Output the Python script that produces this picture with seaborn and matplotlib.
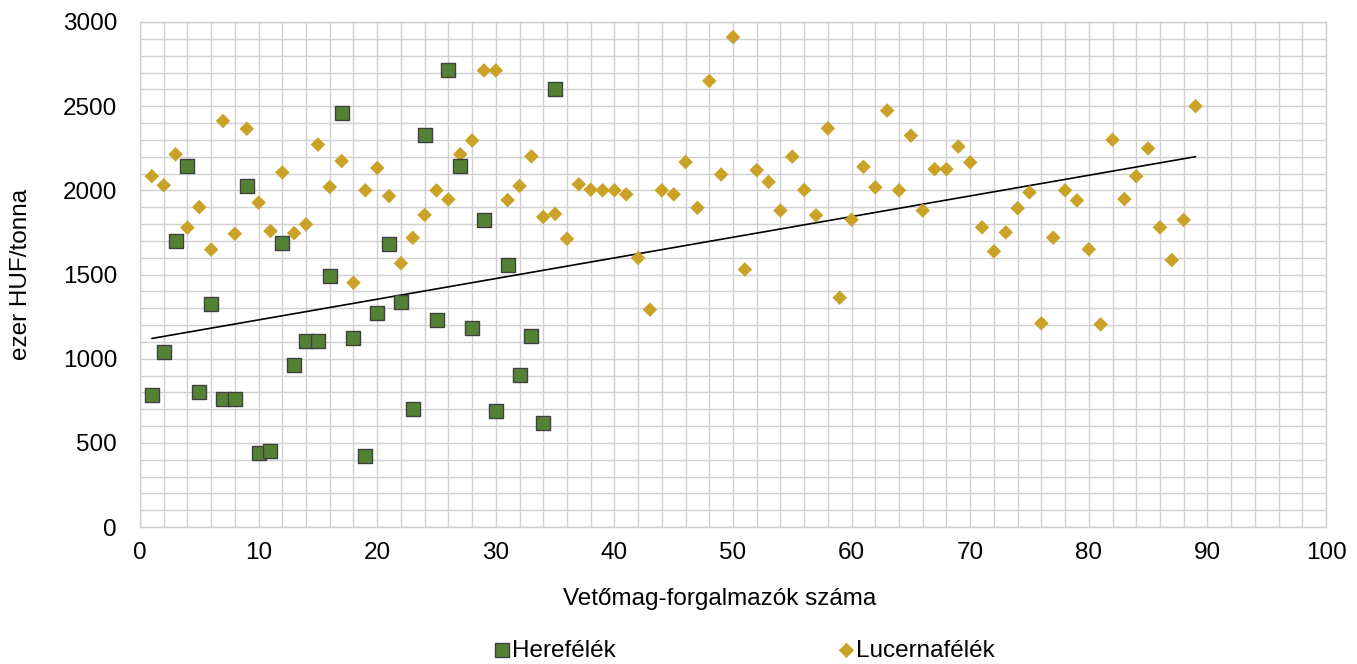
import numpy as np
import pandas as pd
import matplotlib
matplotlib.use("Agg")
import matplotlib.pyplot as plt
import seaborn as sns

# Herefélék (clover), seed traders 1..35
here_x = list(range(1, 36))
here_y = [784, 1042, 1700, 2146, 800, 1326, 758, 758, 2026, 437,
          452, 1690, 962, 1102, 1102, 1492, 2462, 1124, 423, 1270,
          1682, 1338, 702, 2327, 1230, 2714, 2146, 1180, 1822, 690,
          1555, 902, 1137, 617, 2602]

# Lucernafélék (alfalfa), seed traders 1..89
lucerna_x = list(range(1, 90))
lucerna_y = [2084, 2030, 2214, 1778, 1900, 1648, 2412, 1742, 2366, 1927,
             1758, 2106, 1746, 1798, 2272, 2020, 2174, 1451, 2000, 2133,
             1966, 1567, 1718, 1854, 2000, 1946, 2214, 2296, 2712, 2712,
             1942, 2026, 2202, 1842, 1860, 1712, 2036, 2004, 2000, 2000,
             1976, 1598, 1291, 2000, 1976, 2168, 1896, 2650, 2094, 2910,
             1530, 2120, 2050, 1880, 2200, 2002, 1852, 2368, 1362, 1826,
             2140, 2018, 2474, 2000, 2325, 1880, 2126, 2126, 2260, 2166,
             1780, 1637, 1750, 1894, 1988, 1210, 1719, 2000, 1940, 1650,
             1204, 2300, 1948, 2084, 2249, 1780, 1586, 1824, 2500]

# linear trendline endpoints
trend_x = [1, 89]
trend_y = [1120, 2200]

here_df = pd.DataFrame({"x": here_x, "y": here_y})
lucerna_df = pd.DataFrame({"x": lucerna_x, "y": lucerna_y})
trend_df = pd.DataFrame({"x": trend_x, "y": trend_y})

sns.set_style("white")
plt.rcParams["font.family"] = ["Liberation Sans", "DejaVu Sans"]
plt.rcParams["text.color"] = "black"
plt.rcParams["axes.labelcolor"] = "black"

grid_color = "#D0D0D0"
fs = 17.5

fig = plt.figure(figsize=(13.57, 6.64), dpi=100)
ax = fig.add_axes([140 / 1357, 1 - 527 / 664, 1186 / 1357, 505 / 664])

sns.lineplot(data=trend_df, x="x", y="y", color="black", linewidth=1.2, ax=ax, zorder=2)
sns.scatterplot(data=lucerna_df, x="x", y="y", marker="D", s=55, color="#C9A227",
                edgecolor="none", linewidth=0, ax=ax, zorder=3, label="Lucernafélék")
sns.scatterplot(data=here_df, x="x", y="y", marker="s", s=95, color="#548235",
                edgecolor="#404040", linewidth=1.0, ax=ax, zorder=4, label="Herefélék")

ax.set_xlim(0, 100)
ax.set_ylim(0, 3000)
ax.set_xticks(np.arange(0, 101, 10))
ax.set_xticks(np.arange(0, 101, 2), minor=True)
ax.set_yticks(np.arange(0, 3001, 500))
ax.set_yticks(np.arange(0, 3001, 100), minor=True)
ax.grid(True, which="both", color=grid_color, linewidth=1.0)
ax.set_axisbelow(True)
for sp in ax.spines.values():
    sp.set_color(grid_color)
    sp.set_linewidth(1.0)

ax.tick_params(axis="both", which="both", length=0, labelsize=fs, colors="black")
ax.tick_params(axis="x", pad=10.5)
ax.tick_params(axis="y", pad=16.5)

ax.set_xlabel("Vetőmag-forgalmazók száma", fontsize=fs)
ax.set_ylabel("ezer HUF/tonna", fontsize=fs)
ax.xaxis.set_label_coords(0.4886, -0.12)
ax.yaxis.set_label_coords(-0.091, 0.5)

handles, labels = ax.get_legend_handles_labels()
ax.get_legend().remove()
order = [labels.index("Herefélék"), labels.index("Lucernafélék")]
fig.legend([handles[i] for i in order], [labels[i] for i in order],
           loc="center", bbox_to_anchor=(0.548, 0.02), ncol=2, frameon=False,
           fontsize=fs, handletextpad=0.0, columnspacing=9.1, handlelength=0.8,
           markerscale=1.05)

fig.savefig("out.png", dpi=100)
